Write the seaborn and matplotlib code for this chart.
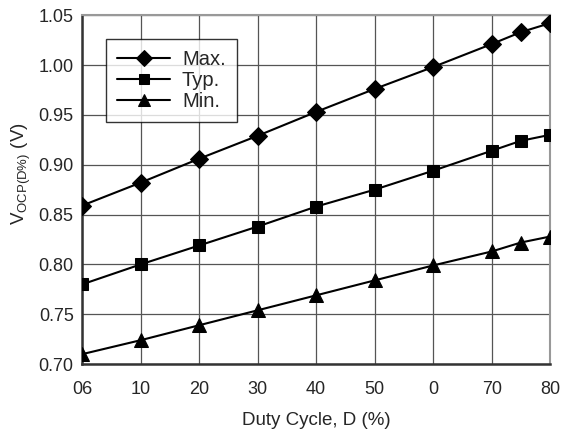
import matplotlib
matplotlib.use("Agg")
import matplotlib.pyplot as plt
import seaborn as sns
import pandas as pd

sns.set_style("white")
plt.rcParams['font.family'] = ['Liberation Sans', 'DejaVu Sans']
plt.rcParams['mathtext.fontset'] = 'custom'
plt.rcParams['mathtext.rm'] = 'Liberation Sans'

# duty cycle positions (%)
duty = [0, 10, 20, 30, 40, 50, 60, 70, 75, 80]
v_max = [0.859, 0.882, 0.906, 0.929, 0.953, 0.976, 0.998, 1.021, 1.033, 1.042]
v_typ = [0.780, 0.800, 0.819, 0.838, 0.858, 0.875, 0.894, 0.914, 0.924, 0.930]
v_min = [0.710, 0.724, 0.739, 0.754, 0.769, 0.784, 0.799, 0.813, 0.822, 0.828]

xticks = [0, 10, 20, 30, 40, 50, 60, 70, 80]
xtick_labels = ['06', '10', '20', '30', '40', '50', '0', '70', '80']
yticks = [0.70, 0.75, 0.80, 0.85, 0.90, 0.95, 1.00, 1.05]

series = [("Max.", v_max, "D", 9), ("Typ.", v_typ, "s", 9), ("Min.", v_min, "^", 10)]

fig = plt.figure(figsize=(5.62, 4.33), dpi=100)
ax = fig.add_axes([0.146, 0.159, 0.833, 0.806])

for name, vals, mk, ms in series:
    df = pd.DataFrame({"duty": duty, "v": vals})
    sns.lineplot(data=df, x="duty", y="v", ax=ax, color="black", linewidth=1.5,
                 marker=mk, markersize=ms, markeredgecolor="black",
                 label=name, zorder=3)

ax.set_xlim(0, 80)
ax.set_ylim(0.70, 1.05)
ax.set_xticks(xticks)
ax.set_xticklabels(xtick_labels)
ax.set_yticks(yticks)
ax.set_yticklabels([f"{t:.2f}" for t in yticks])
ax.tick_params(labelsize=13, length=0)
ax.tick_params(axis="x", pad=12)
ax.tick_params(axis="y", pad=6)
ax.grid(True, color="#555555", linewidth=0.9)

for side in ["left", "bottom"]:
    ax.spines[side].set_color("#333333")
    ax.spines[side].set_linewidth(1.8)
for side in ["top", "right"]:
    ax.spines[side].set_color("#999999")
    ax.spines[side].set_linewidth(1.5)

ax.set_xlabel("Duty Cycle, D (%)", fontsize=13.5, labelpad=10)
ax.set_ylabel(r"V$_{\mathrm{OCP(D\%)}}$ (V)", fontsize=13.5)
ax.yaxis.set_label_coords(-0.105, 0.545)

leg = ax.legend(loc="upper left", bbox_to_anchor=(0.052, 0.933), fontsize=14.5,
                frameon=True, fancybox=False, edgecolor="black", handlelength=2.6,
                markerscale=0.85, borderpad=0.55, labelspacing=0.1, handletextpad=0.6,
                borderaxespad=0)
leg.get_frame().set_linewidth(1.0)

fig.savefig("out.png", dpi=100)
